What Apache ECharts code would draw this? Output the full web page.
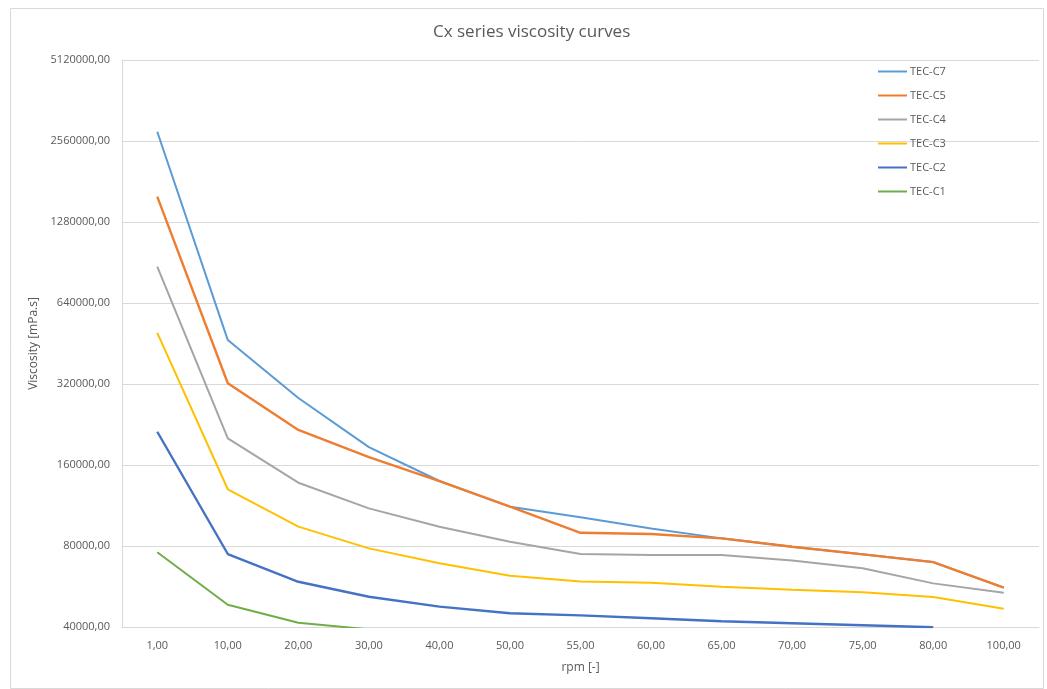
<!DOCTYPE html>
<html>
<head>
<meta charset="utf-8">
<script src="https://cdn.jsdelivr.net/npm/echarts@6/dist/echarts.min.js"></script>
<style>
  html, body { margin: 0; padding: 0; background: #ffffff; }
  #chart { width: 1047px; height: 689px; }
</style>
</head>
<body>
<div id="chart"></div>
<script>
// rpm categories
const rpm = ['1,00', '10,00', '20,00', '30,00', '40,00', '50,00', '55,00', '60,00', '65,00', '70,00', '75,00', '80,00', '100,00'];

// viscosity values [mPa.s] per grade
const tecC7 = [2770000, 466000, 284000, 186500, 139500, 112000, 102300, 93000, 85400, 79500, 74500, 69700, 56000];
const tecC5 = [1590000, 322000, 216000, 171000, 139500, 112000, 89600, 88600, 85400, 79500, 74500, 69700, 56000];
const tecC4 = [873000, 201000, 137500, 110400, 94300, 83000, 74700, 74100, 74000, 70600, 66100, 58100, 53600];
const tecC3 = [496000, 130000, 94400, 78400, 69000, 62000, 59100, 58400, 56500, 55000, 53800, 51700, 46800];
const tecC2 = [212700, 74700, 58900, 51800, 47600, 45000, 44200, 43100, 42000, 41300, 40600, 39900, null];
const tecC1 = [75800, 48400, 41500, 39200, null, null, null, null, null, null, null, null, null];

// y-axis ticks (log base 2)
const yTicks = [40000, 80000, 160000, 320000, 640000, 1280000, 2560000, 5120000];

const seriesDefs = [
  { name: 'TEC-C7', data: tecC7, color: '#5B9BD5', width: 2 },
  { name: 'TEC-C5', data: tecC5, color: '#ED7D31', width: 2.4 },
  { name: 'TEC-C4', data: tecC4, color: '#A5A5A5', width: 2 },
  { name: 'TEC-C3', data: tecC3, color: '#FFC000', width: 2 },
  { name: 'TEC-C2', data: tecC2, color: '#4472C4', width: 2.4 },
  { name: 'TEC-C1', data: tecC1, color: '#70AD47', width: 2 }
];

const textColor = '#595959';
const gridColor = '#D9D9D9';
const fontFamily = '"Open Sans", "Liberation Sans", sans-serif';

const chart = echarts.init(document.getElementById('chart'), null, { renderer: 'canvas' });

chart.setOption({
  animation: false,
  backgroundColor: '#ffffff',
  textStyle: { fontFamily: fontFamily },
  title: {
    text: 'Cx series viscosity curves',
    left: 428,
    top: 19,
    textStyle: { color: textColor, fontSize: 17, fontWeight: 'normal', fontFamily: fontFamily }
  },
  graphic: [{
    type: 'rect',
    left: 8, top: 6,
    shape: { width: 1033, height: 680 },
    style: { fill: 'none', stroke: '#D9D9D9', lineWidth: 1 },
    silent: true,
    z: -1
  }],
  legend: {
    orient: 'vertical',
    left: 873,
    top: 61,
    itemWidth: 29,
    itemHeight: 2,
    itemGap: 13,
    icon: 'rect',
    textStyle: { color: textColor, fontSize: 11, padding: [0, 0, 0, -2] },
    data: seriesDefs.map(s => s.name)
  },
  grid: { left: 122, right: 8, top: 60, bottom: 62, containLabel: false },
  xAxis: {
    type: 'category',
    data: rpm,
    boundaryGap: true,
    name: 'rpm [-]',
    nameLocation: 'middle',
    nameGap: 35,
    nameTextStyle: { color: textColor, fontSize: 12 },
    axisLine: { show: true, lineStyle: { color: gridColor, width: 1 } },
    axisTick: { show: false },
    axisLabel: { color: textColor, fontSize: 11, margin: 13 },
    splitLine: { show: false }
  },
  yAxis: {
    type: 'log',
    logBase: 2,
    min: 40000,
    max: 5120000,
    name: 'Viscosity [mPa.s]',
    nameLocation: 'middle',
    nameGap: 80,
    nameTextStyle: { color: textColor, fontSize: 12 },
    axisLine: { show: true, lineStyle: { color: gridColor, width: 1 } },
    axisTick: { show: false, customValues: yTicks },
    axisLabel: {
      color: textColor,
      fontSize: 11,
      margin: 12,
      customValues: yTicks,
      formatter: v => Math.round(v).toString() + ',00'
    },
    splitLine: { show: true, lineStyle: { color: gridColor, width: 1 } }
  },
  series: seriesDefs.map(s => ({
    name: s.name,
    type: 'line',
    data: s.data,
    showSymbol: false,
    symbol: 'none',
    clip: true,
    connectNulls: false,
    lineStyle: { color: s.color, width: s.width },
    itemStyle: { color: s.color }
  }))
});
</script>
</body>
</html>
